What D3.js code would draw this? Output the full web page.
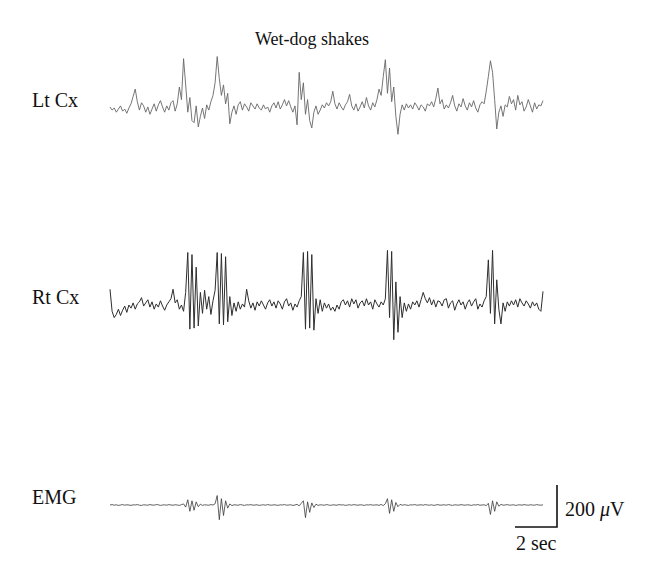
<!DOCTYPE html>
<html>
<head>
<meta charset="utf-8">
<script src="https://d3js.org/d3.v7.min.js"></script>
<style>
  body { margin: 0; background: #fff; }
  text { font-family: "Liberation Serif", "DejaVu Serif", serif; fill: #111; }
</style>
</head>
<body>
<div class="canvas"></div>
<script>
// sample step of the traces, in seconds
const dt = 0.1;

// trace names
const channels = ["Lt Cx", "Rt Cx", "EMG"];

// left cortex (uV)
const ltCx = [
  5, -10, 0, -20, -5, 10, -15, -5, -25, 0,
  20, 55, 90, 30, -10, 25, 10, -20, 5, -30,
  -5, 20, -15, 15, 35, 5, -20, 10, -10, 25,
  35, -15, 20, 100, 40, 235, 110, -20, 50, -60,
  -70, 10, -90, -40, 0, -50, 15, -10, 30, 60,
  120, 245, 140, 60, 110, 20, 70, -75, -20, 10,
  -30, 15, 30, -10, 20, 5, -15, 25, 10, -5,
  20, 0, -10, 15, -5, 5, -20, 10, 25, 0,
  30, -5, 15, 40, 10, 35, 5, -20, 10, -80,
  170, 40, 120, -30, 40, -60, -95, -20, 10, -30,
  -10, 15, 0, 25, 10, 30, 80, 20, -5, 25,
  5, -10, 15, 30, 65, 10, -10, 20, -15, 5,
  30, 0, 50, 10, -10, 25, 5, 40, 90, 60,
  150, 230, 70, 190, 30, 100, -40, -125, -30, 15,
  -10, 20, 0, 15, -5, 25, 10, -10, 15, 5,
  -15, 20, 10, 30, 5, 45, 95, 20, 40, -5,
  15, 0, 25, 60, 10, -15, 20, 5, 45, 10,
  -10, 25, 5, 35, 0, -20, 15, 30, 20, 80,
  150, 225, 170, 40, -100, -20, 10, -40, 15, 5,
  55, 20, 40, -10, 60, 15, 30, -15, 5, 40,
  10, -20, 25, -5, 15, 10, 35
];

// right cortex (uV)
const rtCx = [
  75, -30, -60, -45, -20, -50, -25, -5, -35, 0,
  -15, 10, -20, 5, 15, 35, -5, 10, 25, -10,
  15, -20, 5, -10, 20, -5, -25, 0, 15, 30,
  75, 10, 25, -20, 0, -30, 60, 250, -115, 240,
  -110, 180, -100, 60, -40, 70, -20, 40, -45, 20,
  70, 250, -90, 245, -95, 230, -80, 40, -50, 10,
  -30, 15, -20, 5, -10, 75, 20, -15, 10, -25,
  15, -5, 20, 0, -20, 10, 25, -5, 15, -15,
  20, 5, -20, 15, 30, -5, 10, -25, 5, -10,
  20, 40, 250, -115, 255, -110, 240, -120, 30, -40,
  25, -30, 10, -15, 5, -25, -10, -30, 0, -20,
  15, 25, 0, 20, -10, 30, 5, 25, -15, 10,
  20, -5, 30, 0, 15, -20, 25, 5, -10, 15,
  0, 30, 260, -60, 255, -165, 110, -130, 40, -60,
  10, -30, 5, -20, 15, 0, 20, -10, 25, 60,
  30, 10, 35, 0, 25, -10, 20, 15, -5, 25,
  30, -15, 10, 20, -25, 5, 25, 0, 15, -20,
  10, 25, -5, 15, 30, -20, 5, -10, 20, 40,
  215, -40, 260, -90, 120, -20, -90, 10, -30, 15,
  -5, 20, 0, 25, -10, 30, 10, -5, 20, 5,
  -15, 15, -5, 10, -20, -30, 65
];

// neck muscle (uV)
const emg = [
  0, 2, -1, 1, -2, 0, 2, -1, 1, 0,
  -2, 1, 0, 2, -1, -2, 1, 0, -1, 2,
  0, -1, 2, 1, -2, 0, 1, -1, 2, 0,
  -1, 1, 0, -2, 2, 5, -10, 25, -30, 20,
  -25, 15, -8, 4, -2, 1, 0, -1, 2, 0,
  6, 45, -70, 30, -50, 20, -15, 5, -3, 1,
  0, -1, 2, 0, -2, 1, 0, 2, -1, 0,
  1, -2, 0, 1, -1, 2, 0, -1, 1, 0,
  -2, 1, 0, 2, -1, 0, 1, -2, 0, 3,
  -4, 8, 20, -60, 15, -35, 10, -12, 4, -2,
  1, 0, -1, 2, 0, -2, 1, 0, -1, 2,
  0, 1, -2, 0, 1, -1, 2, 0, -1, 1,
  0, -2, 1, 0, 2, -1, 0, 1, -2, 3,
  -3, 6, 30, -40, 25, -30, 12, -8, 3, -1,
  1, 0, -2, 1, 0, 2, -1, 0, 1, -1,
  2, 0, -1, 1, -2, 0, 2, -1, 0, 1,
  -1, 2, 0, -2, 1, 0, -1, 2, 0, -1,
  1, 0, -2, 1, 0, 2, -1, 0, 1, -3,
  8, -45, 20, -30, 15, -6, 3, -1, 0, 2,
  -1, 0, 1, -2, 0, 1, -1, 2, 0, -1,
  1, 0, -1, 2, 0, -1, 1
];

// scale bar values
const barSec = 2;
const barUv = 200;

const width = 660, height = 581;

const svg = d3.select(".canvas")
  .append("svg")
    .attr("width", width)
    .attr("height", height);

// time axis shared by all traces
const x = d3.scaleLinear()
    .domain([0, (ltCx.length - 1) * dt])
    .range([110, 543]);

// one vertical scale per trace, 200 uV = 42 px
const baselines = [108, 305, 505];
const ys = baselines.map(b => d3.scaleLinear().domain([-200, 200]).range([b + 42, b - 42]));

const traces = [ltCx, rtCx, emg];
const colors = ["#666", "#2e2e2e", "#3a3a3a"];
const widths = [0.9, 1.0, 0.8];

traces.forEach((vals, k) => {
  const line = d3.line()
      .x((d, i) => x(i * dt))
      .y(d => ys[k](d));
  svg.append("path")
      .datum(vals)
      .attr("d", line)
      .attr("fill", "none")
      .attr("stroke", colors[k])
      .attr("stroke-width", widths[k])
      .attr("stroke-linejoin", "round");

  // channel label
  svg.append("text")
      .attr("x", 32)
      .attr("y", baselines[k] - 1)
      .style("font-size", "20px")
      .text(channels[k]);
});

// title
svg.append("text")
    .attr("x", 312)
    .attr("y", 45)
    .attr("text-anchor", "middle")
    .style("font-size", "18px")
    .text("Wet-dog shakes");

// scale bar
const barRight = 557, barBottom = 527;
const barLen = x(barSec) - x(0);
const barH = ys[2](0) - ys[2](barUv);
svg.append("path")
    .attr("d", `M${barRight - barLen},${barBottom}H${barRight}V${barBottom - barH}`)
    .attr("fill", "none")
    .attr("stroke", "#111")
    .attr("stroke-width", 1.6);

const uvLabel = svg.append("text")
    .attr("x", 565)
    .attr("y", 516)
    .style("font-size", "20px");
uvLabel.append("tspan").text(barUv + " ");
uvLabel.append("tspan").style("font-style", "italic").text("\u03bc");
uvLabel.append("tspan").text("V");

svg.append("text")
    .attr("x", barRight - barLen + 1)
    .attr("y", 550)
    .style("font-size", "20px")
    .text(barSec + " sec");
</script>
</body>
</html>
